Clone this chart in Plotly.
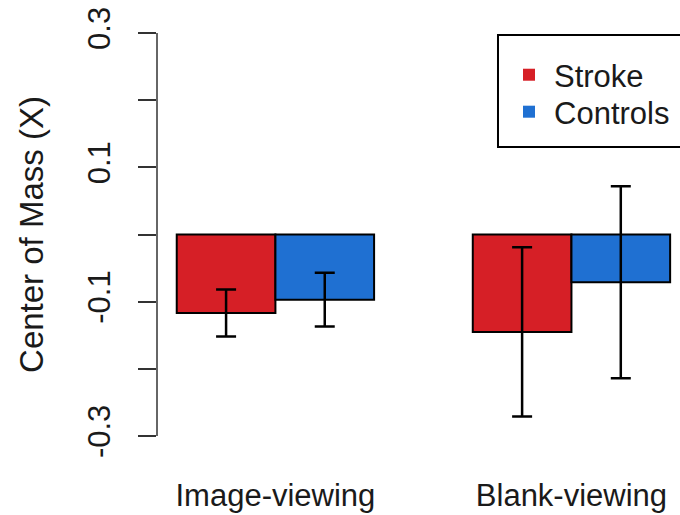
import plotly.graph_objects as go

# Group means and error half-widths for each condition
conditions = ["Image-viewing", "Blank-viewing"]
stroke_mean = [-0.117, -0.145]
stroke_err = [0.035, 0.126]
control_mean = [-0.097, -0.071]
control_err = [0.040, 0.143]

y_ticks = [-0.3, -0.2, -0.1, 0.0, 0.1, 0.2, 0.3]
y_tick_text = ["-0.3", "", "-0.1", "", "0.1", "", "0.3"]

# bar centres (R barplot beside=TRUE style: unit-width bars, one unit gap between groups)
stroke_x = [1.5, 4.5]
control_x = [2.5, 5.5]
group_x = [2.0, 5.0]

RED = "#D61F26"
BLUE = "#1F70D2"
FONT = "Liberation Sans, Arial, Helvetica, sans-serif"
TXT = 31

fig = go.Figure()

err_style = dict(type="data", visible=True, color="black", thickness=2.5, width=10)

fig.add_trace(go.Bar(
    x=stroke_x, y=stroke_mean, width=1.0,
    marker=dict(color=RED, line=dict(color="black", width=2)),
    error_y=dict(array=stroke_err, **err_style),
    showlegend=False,
))
fig.add_trace(go.Bar(
    x=control_x, y=control_mean, width=1.0,
    marker=dict(color=BLUE, line=dict(color="black", width=2)),
    error_y=dict(array=control_err, **err_style),
    showlegend=False,
))

# legend entries as plain filled squares, one legend each for tighter line spacing
fig.add_trace(go.Scatter(x=[None], y=[None], mode="markers", name="Stroke",
                         marker=dict(symbol="square", size=12, color=RED),
                         legend="legend"))
fig.add_trace(go.Scatter(x=[None], y=[None], mode="markers", name="Controls",
                         marker=dict(symbol="square", size=12, color=BLUE),
                         legend="legend2"))

legend_style = dict(xanchor="left", yanchor="middle", bgcolor="rgba(0,0,0,0)",
                    borderwidth=0, itemwidth=40, font=dict(size=TXT))

fig.update_layout(
    width=680, height=515,
    margin=dict(l=157, r=0, t=17, b=63),
    paper_bgcolor="white", plot_bgcolor="white",
    barmode="overlay",
    font=dict(family=FONT, size=TXT, color="#1a1a1a"),
    showlegend=True,
    legend=dict(x=0.6635, y=0.8665, **legend_style),
    legend2=dict(x=0.6635, y=0.7815, **legend_style),
    xaxis=dict(range=[0.8, 6.1], showgrid=False, zeroline=False, showline=False,
               tickmode="array", tickvals=group_x, ticktext=conditions,
               ticks="", ticklabelstandoff=22),
    yaxis=dict(range=[-0.3238, 0.3238], showgrid=False, zeroline=False, showline=False,
               tickmode="array", tickvals=y_ticks, ticktext=y_tick_text,
               ticks="outside", ticklen=18, tickwidth=1.5, tickcolor="#333",
               tickangle=-90, ticklabelstandoff=16,
               title=dict(text="Center of Mass (X)", standoff=28,
                          font=dict(size=33))),
    shapes=[
        # y axis line spanning only the tick range
        dict(type="line", xref="paper", yref="y", x0=0, x1=0, y0=-0.3, y1=0.3,
             line=dict(color="#333", width=1.5)),
        # legend frame
        dict(type="rect", xref="paper", yref="paper",
             x0=0.652, x1=1.05, y0=0.701, y1=0.9586,
             line=dict(color="black", width=2), fillcolor="rgba(0,0,0,0)"),
    ],
)

fig.write_html("out.html")
